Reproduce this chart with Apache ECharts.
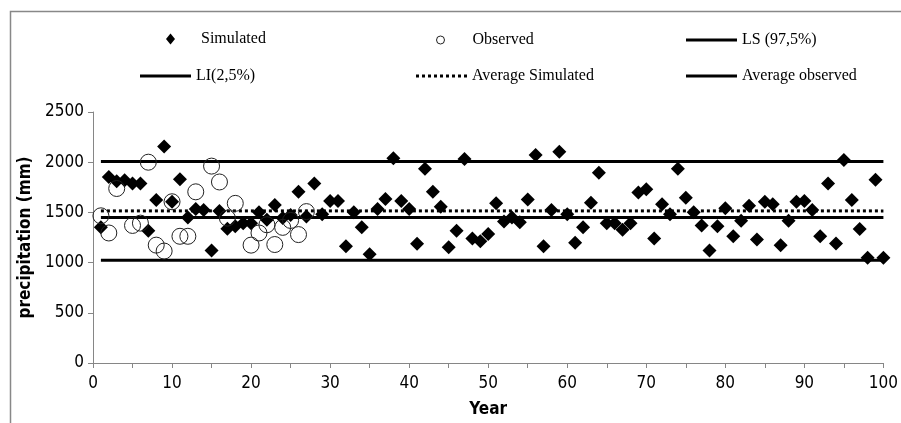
<!DOCTYPE html>
<html>
<head>
<meta charset="utf-8">
<script src="https://cdn.jsdelivr.net/npm/echarts@6/dist/echarts.min.js"></script>
<style>
html,body{margin:0;padding:0;background:#fff;}
#chart{width:901px;height:423px;}
</style>
</head>
<body>
<div id="chart"></div>
<script>
// Simulated precipitation (mm), years 1..100
const simulatedValues = [
  1351,1852,1810,1820,1787,1787,1318,1623,2157,1606,
  1829,1449,1534,1525,1121,1515,1338,1362,1393,1393,
  1502,1426,1574,1443,1475,1705,1459,1787,1482,1613,
  1613,1164,1502,1351,1082,1534,1633,2039,1613,1534,
  1187,1934,1705,1557,1154,1318,2033,1239,1213,1285,
  1590,1410,1449,1403,1629,2072,1164,1525,2105,1482,
  1197,1351,1597,1895,1393,1393,1328,1393,1698,1731,
  1239,1580,1482,1934,1646,1502,1370,1121,1361,1541,
  1262,1416,1567,1230,1606,1580,1174,1416,1606,1613,
  1525,1262,1787,1190,2023,1623,1334,1049,1826,1049
];
// Observed precipitation (mm)
const observedYears  = [1,2,3,5,6,7,8,9,10,11,12,13,15,16,17,18,20,21,22,23,24,25,26,27];
const observedValues = [1466,1295,1738,1370,1393,2000,1174,1115,1606,1262,1262,1705,1961,1803,1443,1590,1174,1295,1377,1180,1351,1420,1279,1508];
// Reference lines
const lineStartYear = 1, lineEndYear = 100;
const lsValue = 2007;      // LS (97,5%)
const liValue = 1023;      // LI(2,5%)
const avgSimValue = 1515;  // Average Simulated
const avgObsValue = 1449;  // Average observed
// Axes
const yTicks = [0, 500, 1000, 1500, 2000, 2500];
const xTickLabels = [0,10,20,30,40,50,60,70,80,90,100];

const simData = simulatedValues.map((v, i) => [i + 1, v]);
const obsData = observedYears.map((y, i) => [y, observedValues[i]]);
const hline = v => [[lineStartYear, v], [lineEndYear, v]];

const axisFont = "'Liberation Sans Narrow','DejaVu Sans Condensed','Liberation Sans',sans-serif";
const legFont = "'Liberation Serif','DejaVu Serif',serif";
const legText = {fontFamily: legFont, fontSize: 16, color: '#000'};

const solidIcon = 'path://M0,0L51,0L51,3L0,3Z';
let dotted = '';
for (let k = 0; k < 9; k++) { const x0 = k * 6; dotted += 'M' + x0 + ',0h3v3h-3z'; }
const dottedIcon = 'path://' + dotted;

function lineLegend(name, icon, left, top) {
  return {data: [{name: name, icon: icon}], left: left, top: top, itemWidth: 51, itemHeight: 3,
          itemStyle: {color: '#000', borderWidth: 0}, lineStyle: {width: 0},
          textStyle: Object.assign({lineHeight: 18}, legText), selectedMode: false, padding: 0};
}

const chart = echarts.init(document.getElementById('chart'));
chart.setOption({
  animation: false,
  backgroundColor: '#fff',
  graphic: [{type: 'rect', left: 8, top: 9, shape: {width: 1000, height: 1000},
             style: {fill: 'none', stroke: '#888', lineWidth: 1.5}, silent: true}],
  legend: [
    {data: [{name: 'Simulated', icon: 'diamond'}], left: 166, top: 31, itemWidth: 9, itemHeight: 11,
     itemStyle: {color: '#000', opacity: 1},
     textStyle: Object.assign({padding: [0,0,0,21]}, legText), selectedMode: false, padding: 0},
    {data: [{name: 'Observed', icon: 'circle'}], left: 436, top: 32, itemWidth: 8, itemHeight: 8,
     itemStyle: {color: '#fff', borderColor: '#222', borderWidth: 1, opacity: 1},
     textStyle: Object.assign({padding: [0,0,0,23]}, legText), selectedMode: false, padding: 0},
    lineLegend('LS (97,5%)', solidIcon, 686, 31),
    lineLegend('LI(2,5%)', solidIcon, 140, 67),
    lineLegend('Average Simulated', dottedIcon, 416, 67),
    lineLegend('Average observed', solidIcon, 686, 67)
  ],
  grid: {left: 93, right: 13, top: 112, bottom: 60, containLabel: false},
  xAxis: {
    type: 'value', min: 0, max: 100, interval: 5,
    name: 'Year', nameLocation: 'middle', nameGap: 38,
    nameTextStyle: {fontFamily: axisFont, fontSize: 17, fontWeight: 'bold', color: '#000'},
    axisLine: {lineStyle: {color: '#868686', width: 1}},
    axisTick: {show: true, length: 5, lineStyle: {color: '#868686'}},
    axisLabel: {fontFamily: axisFont, fontSize: 17, color: '#000', margin: 12,
                formatter: v => xTickLabels.indexOf(v) >= 0 ? String(v) : ''},
    splitLine: {show: false}
  },
  yAxis: {
    type: 'value', min: 0, max: 2500, interval: 500,
    name: 'precipitation (mm)', nameLocation: 'middle', nameGap: 58,
    nameTextStyle: {fontFamily: axisFont, fontSize: 17, fontWeight: 'bold', color: '#000'},
    axisLine: {show: true, lineStyle: {color: '#868686', width: 1}},
    axisTick: {show: true, length: 5, lineStyle: {color: '#868686'}},
    axisLabel: {fontFamily: axisFont, fontSize: 17, color: '#000', margin: 9,
                formatter: v => yTicks.indexOf(v) >= 0 ? String(v) : ''},
    splitLine: {show: false}
  },
  series: [
    {name: 'LS (97,5%)', type: 'line', data: hline(lsValue), symbol: 'none',
     lineStyle: {color: '#000', width: 3}, itemStyle: {color: '#000'}, z: 1},
    {name: 'LI(2,5%)', type: 'line', data: hline(liValue), symbol: 'none',
     lineStyle: {color: '#000', width: 3}, itemStyle: {color: '#000'}, z: 1},
    {name: 'Average Simulated', type: 'line', data: hline(avgSimValue), symbol: 'none',
     lineStyle: {color: '#000', width: 3, type: [3, 3]}, itemStyle: {color: '#000'}, z: 1},
    {name: 'Average observed', type: 'line', data: hline(avgObsValue), symbol: 'none',
     lineStyle: {color: '#000', width: 3}, itemStyle: {color: '#000'}, z: 1},
    {name: 'Simulated', type: 'scatter', data: simData, symbol: 'diamond', symbolSize: 14,
     itemStyle: {color: '#000', opacity: 1}, z: 3},
    {name: 'Observed', type: 'scatter', data: obsData, symbol: 'circle', symbolSize: 16,
     itemStyle: {color: 'rgba(0,0,0,0)', borderColor: '#222', borderWidth: 1, opacity: 1}, z: 4}
  ]
});
</script>
</body>
</html>
